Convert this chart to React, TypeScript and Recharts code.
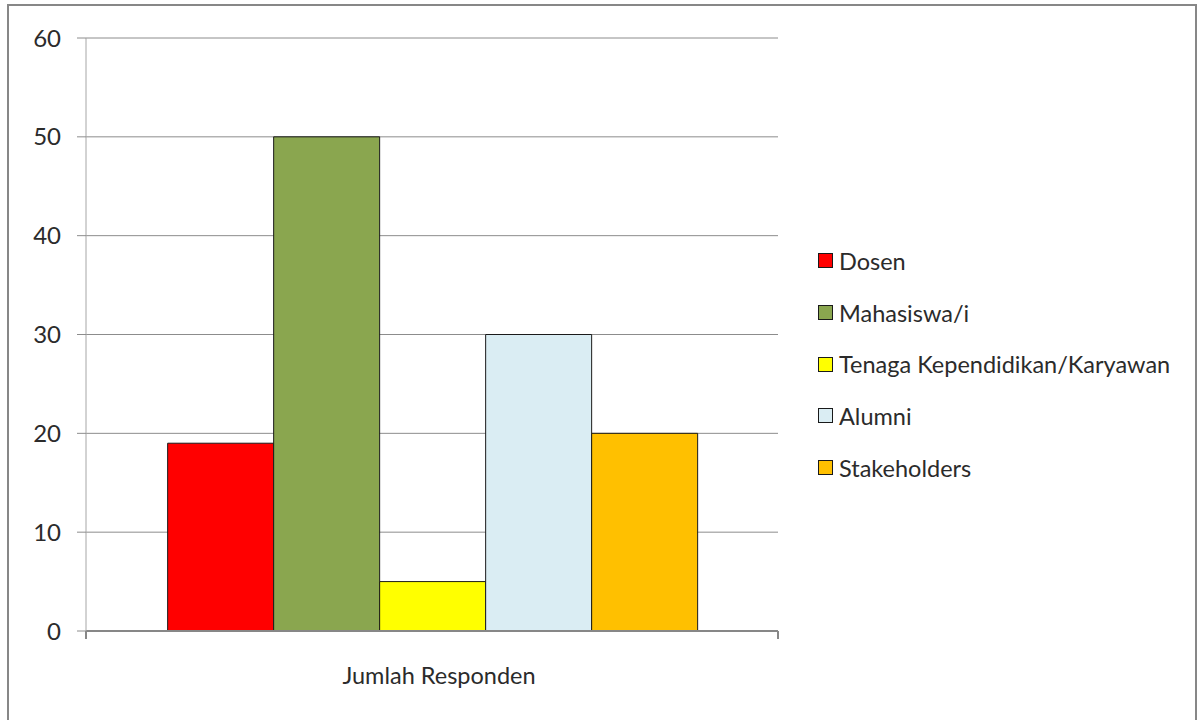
import { BarChart, Bar, XAxis, YAxis, CartesianGrid, Legend, ReferenceLine } from "recharts";

const categories = ["Jumlah Responden"];
const seriesNames = ["Dosen", "Mahasiswa/i", "Tenaga Kependidikan/Karyawan", "Alumni", "Stakeholders"];
const seriesValues = [19, 50, 5, 30, 20];
const seriesColors = ["#ff0000", "#8aa64f", "#ffff00", "#daedf3", "#ffc000"];
const yTicks = [0, 10, 20, 30, 40, 50, 60];

const data = categories.map((name) => {
  const row: Record<string, string | number> = { name };
  seriesNames.forEach((s, i) => {
    row[s] = seriesValues[i];
  });
  return row;
});

const FONT = "Lato, 'Open Sans', sans-serif";
const TEXT = "#2b2b2b";
const AXIS = "#878787";

// keep the legend in series order (recharts sorts it by name otherwise)
function LegendBox() {
  return (
    <div style={{ fontFamily: FONT, fontSize: 23.5, color: TEXT }}>
      {seriesNames.map((name, i) => (
        <div key={name} style={{ display: "flex", alignItems: "center", height: 51.7 }}>
          <span
            style={{
              display: "inline-block",
              width: 13,
              height: 13,
              background: seriesColors[i],
              border: "1px solid #1a1a1a",
              marginRight: 6,
            }}
          />
          <span>{name}</span>
        </div>
      ))}
    </div>
  );
}

export default function App() {
  return (
    <div style={{ position: "absolute", left: 0, top: 0, width: 1199, height: 720, background: "#fff", overflow: "hidden" }}>
      <div
        style={{
          position: "absolute",
          left: 7,
          top: 4,
          width: 1186,
          height: 716,
          borderTop: "2px solid #878787",
          borderLeft: "2px solid #878787",
          borderRight: "2px solid #878787",
        }}
      />
      <BarChart
        width={1199}
        height={720}
        data={data}
        margin={{ top: 38, right: 421, bottom: 29, left: 0 }}
        barCategoryGap="11.8%"
        barGap={0}
      >
        <CartesianGrid vertical={false} stroke="#8c8c8c" />
        <XAxis
          dataKey="name"
          height={60}
          axisLine={{ stroke: AXIS, strokeWidth: 2 }}
          tickLine={false}
          tickSize={0}
          tickMargin={36}
          tick={{ fontFamily: FONT, fontSize: 23.5, fill: TEXT, dx: 7 }}
        />
        <YAxis
          width={86}
          domain={[0, 60]}
          ticks={yTicks}
          interval={0}
          tickSize={9}
          tickMargin={16}
          axisLine={{ stroke: "#a6a6a6" }}
          tickLine={{ stroke: "#8c8c8c" }}
          tick={{ fontFamily: FONT, fontSize: 24, fill: TEXT }}
        />
        {/* small tick marks at both ends of the category band, below the axis */}
        <ReferenceLine
          segment={[
            { x: categories[0], y: 0 },
            { x: categories[0], y: -0.8 },
          ]}
          position="start"
          ifOverflow="visible"
          stroke={AXIS}
          strokeWidth={2}
        />
        <ReferenceLine
          segment={[
            { x: categories[0], y: 0 },
            { x: categories[0], y: -0.8 },
          ]}
          position="end"
          ifOverflow="visible"
          stroke={AXIS}
          strokeWidth={2}
        />
        <Legend
          layout="vertical"
          align="center"
          verticalAlign="middle"
          wrapperStyle={{ left: 818, top: 235, width: 380 }}
          content={<LegendBox />}
        />
        {seriesNames.map((s, i) => (
          <Bar key={s} dataKey={s} fill={seriesColors[i]} stroke="#1a1a1a" strokeWidth={1} isAnimationActive={false} />
        ))}
      </BarChart>
    </div>
  );
}
